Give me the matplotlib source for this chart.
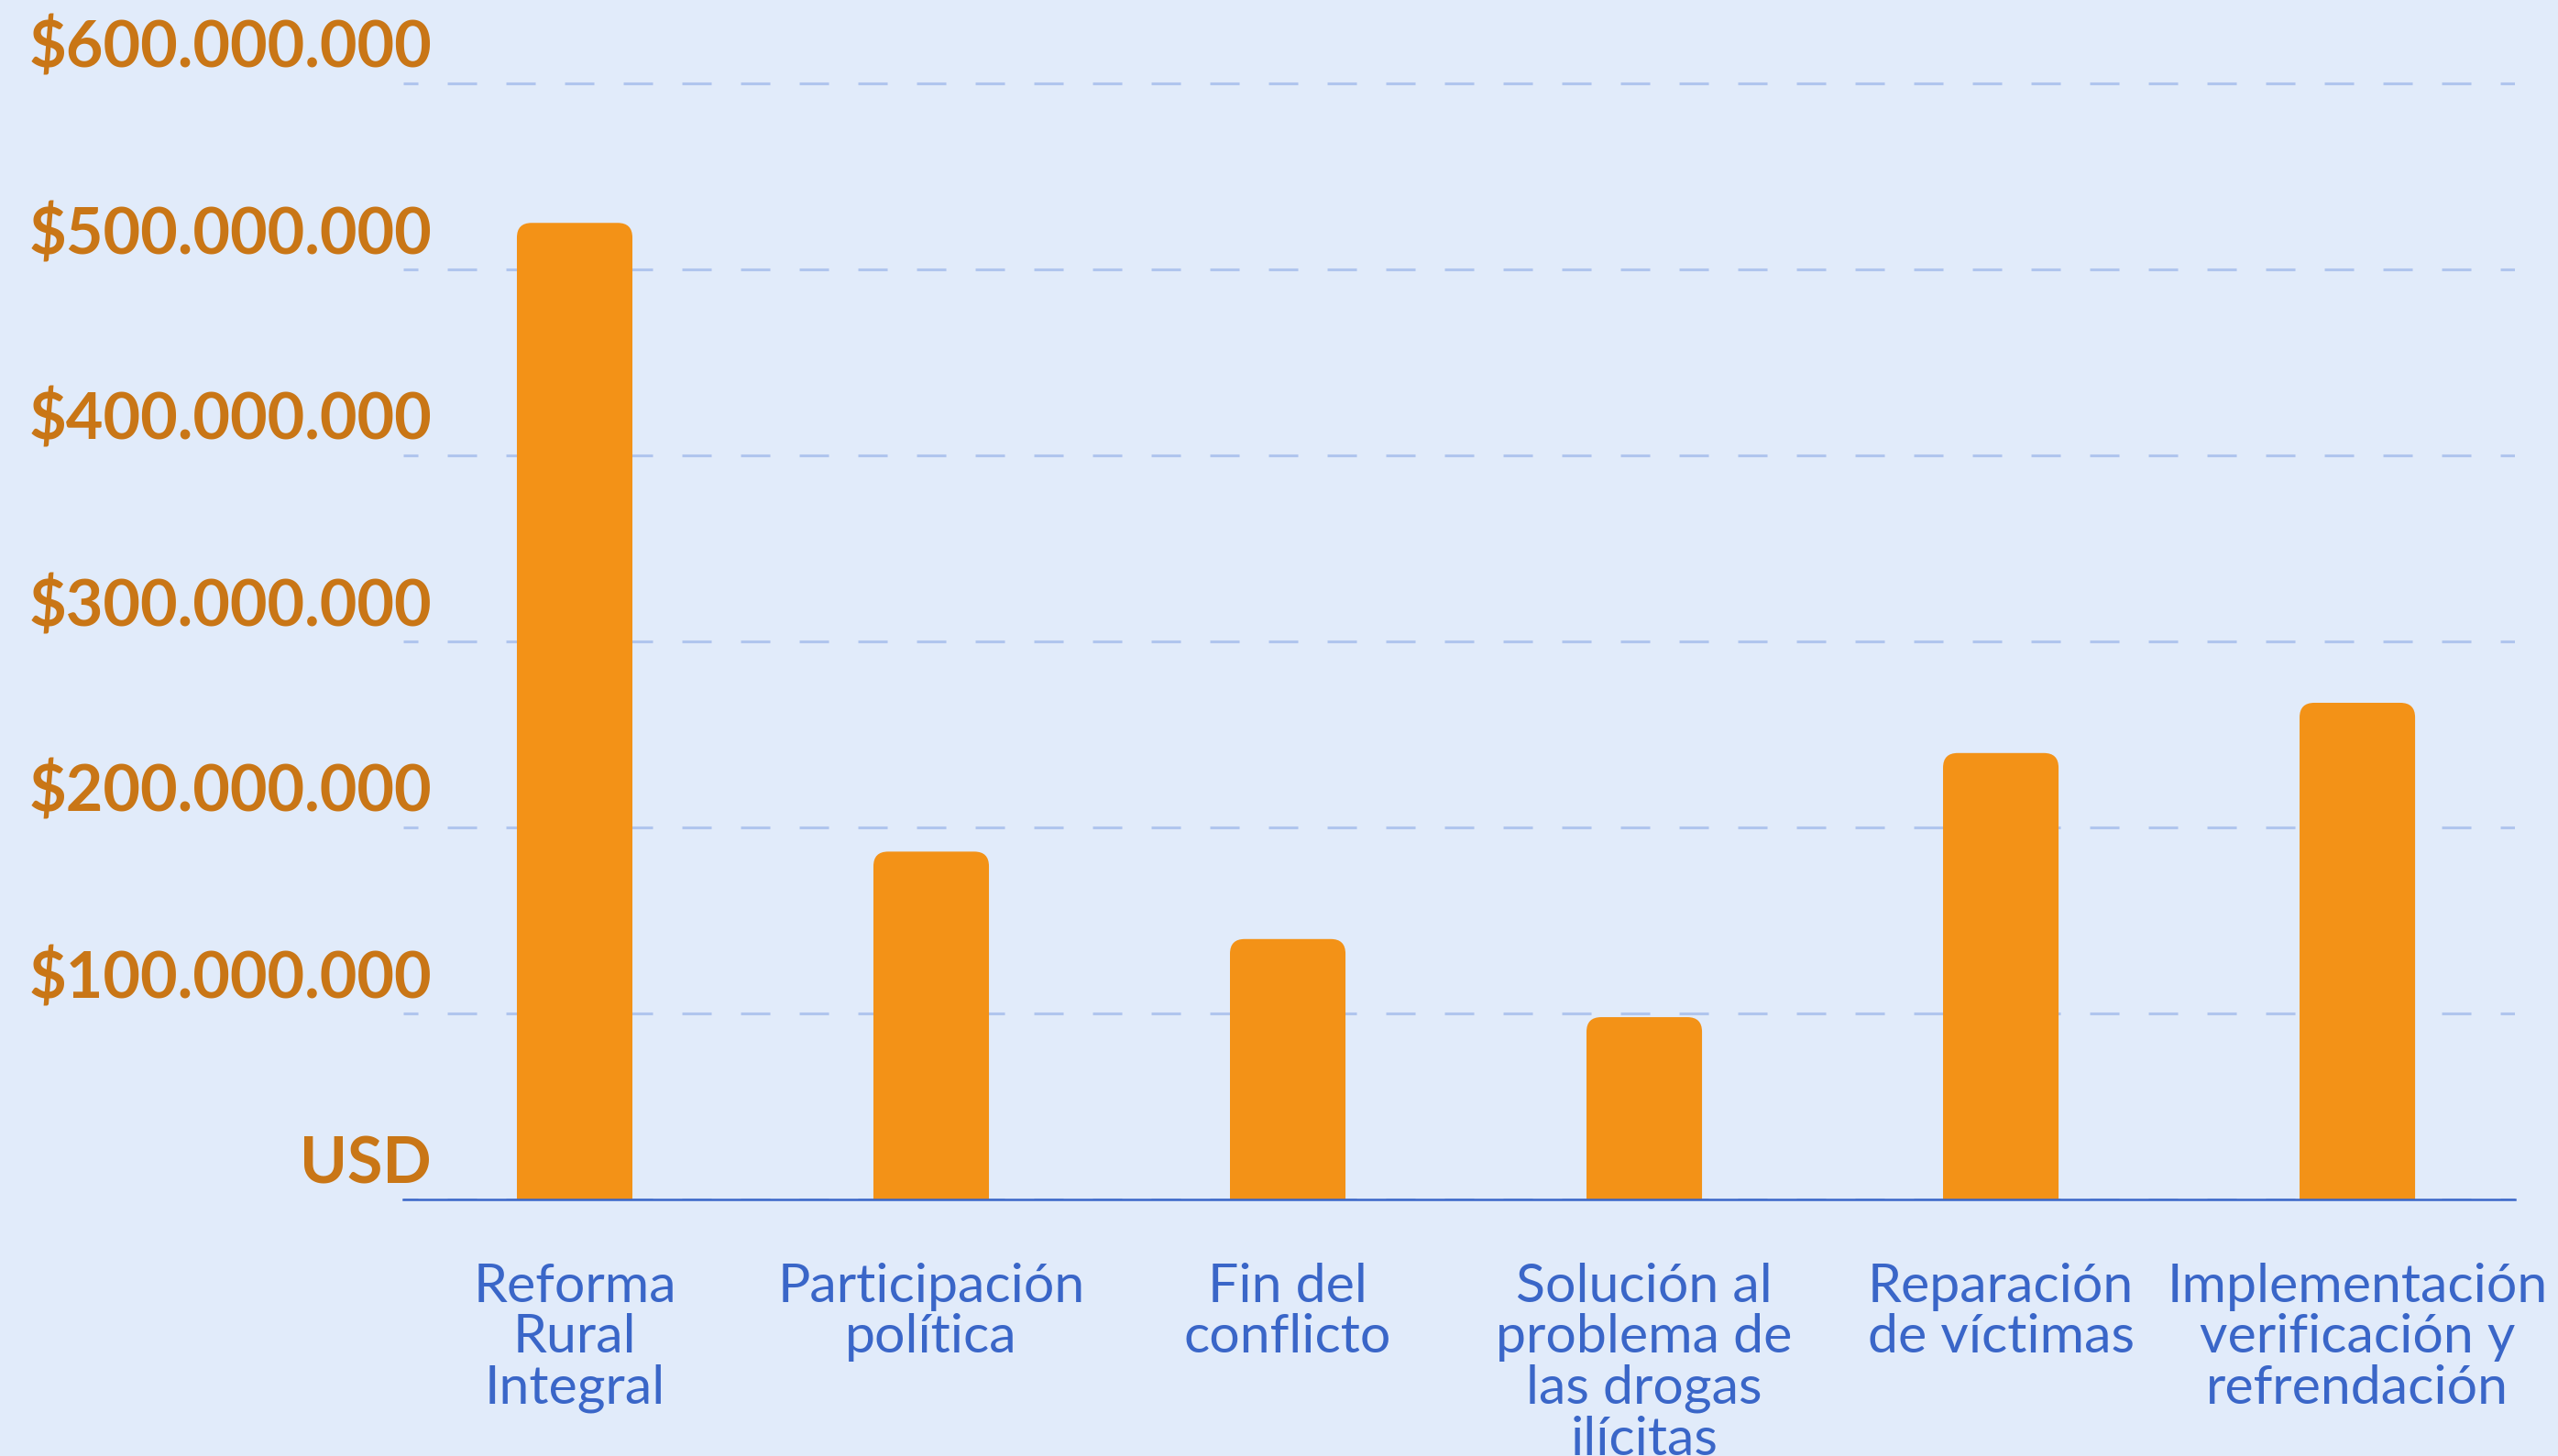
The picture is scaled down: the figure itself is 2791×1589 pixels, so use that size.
import matplotlib
matplotlib.use("Agg")
import matplotlib.pyplot as plt
from matplotlib.patches import FancyBboxPatch

plt.rcParams['lines.scale_dashes'] = False
plt.rcParams['font.family'] = ['Lato', 'DejaVu Sans']

categories = [
    "Reforma\nRural\nIntegral",
    "Participación\npolítica",
    "Fin del\nconflicto",
    "Solución al\nproblema de\nlas drogas\nilícitas",
    "Reparación\nde víctimas",
    "Implementación\nverificación y\nrefrendación",
]
values = [525e6, 187e6, 140e6, 98e6, 240e6, 267e6]
tick_values = [0, 1e8, 2e8, 3e8, 4e8, 5e8, 6e8]
tick_labels = ["USD", "$100.000.000", "$200.000.000", "$300.000.000",
               "$400.000.000", "$500.000.000", "$600.000.000"]

BG = "#E1EBFA"
BAR = "#F39217"
YLAB = "#C97616"
XLAB = "#3A66C8"
GRID = "#B0C5EE"

W, H, DPI = 2791, 1589, 100
fig = plt.figure(figsize=(W / DPI, H / DPI), dpi=DPI, facecolor=BG)

ax_left, ax_right = 440, 2744
y0_px, px_per_100m = 1309, 203
ymax = 6.2e8
ax_top = y0_px - ymax / 1e8 * px_per_100m
ax = fig.add_axes([ax_left / W, 1 - y0_px / H, (ax_right - ax_left) / W, (y0_px - ax_top) / H])
ax.set_facecolor(BG)

xlim = (-0.4807, 5.442)
ax.set_xlim(*xlim)
ax.set_ylim(0, ymax)

x = list(range(len(values)))
bars = ax.bar(x, values, width=0.324, color=BAR, zorder=2)

# rounded top corners
pxx = (ax_right - ax_left) / (xlim[1] - xlim[0])
radius_px = 16
r_x = radius_px / pxx
aspect = (1e8 / px_per_100m) * pxx
r_y = r_x * aspect
for b in bars:
    bx, by, bw, bh = b.get_x(), b.get_y(), b.get_width(), b.get_height()
    b.set_visible(False)
    p = FancyBboxPatch((bx, by - r_y), bw, bh + r_y,
                       boxstyle=f"round,pad=0,rounding_size={r_x}",
                       mutation_aspect=aspect, fc=BAR, ec='none', zorder=2)
    ax.add_patch(p)

ax.set_yticks(tick_values)
ax.set_xticks([])
ax.tick_params(length=0, labelleft=False, labelbottom=False)
ax.set_axisbelow(True)
ax.yaxis.grid(True, color=GRID, linewidth=2.2, linestyle=(11.5, (23.04, 23.04)))
ax.xaxis.grid(False)
for s in ['top', 'right', 'left']:
    ax.spines[s].set_visible(False)
ax.spines['bottom'].set_color(XLAB)
ax.spines['bottom'].set_linewidth(1.8)
ax.spines['bottom'].set_zorder(3)

for v, lab in zip(tick_values, tick_labels):
    ax.annotate(lab, xy=(0, v), xycoords=('axes fraction', 'data'),
                xytext=(31, 17), textcoords='offset pixels',
                ha='right', va='baseline', fontsize=50.5, fontweight='bold',
                color=YLAB, annotation_clip=False)

first_baseline_px = 112
line_step_px = 55.5
for i, cat in enumerate(categories):
    for k, line in enumerate(cat.split("\n")):
        ax.annotate(line, xy=(i, 0), xycoords=('data', 'axes fraction'),
                    xytext=(0, -(first_baseline_px + k * line_step_px)),
                    textcoords='offset pixels',
                    ha='center', va='baseline',
                    fontsize=42.5, color=XLAB, annotation_clip=False)

fig.savefig('out.png', dpi=DPI, facecolor=BG)
